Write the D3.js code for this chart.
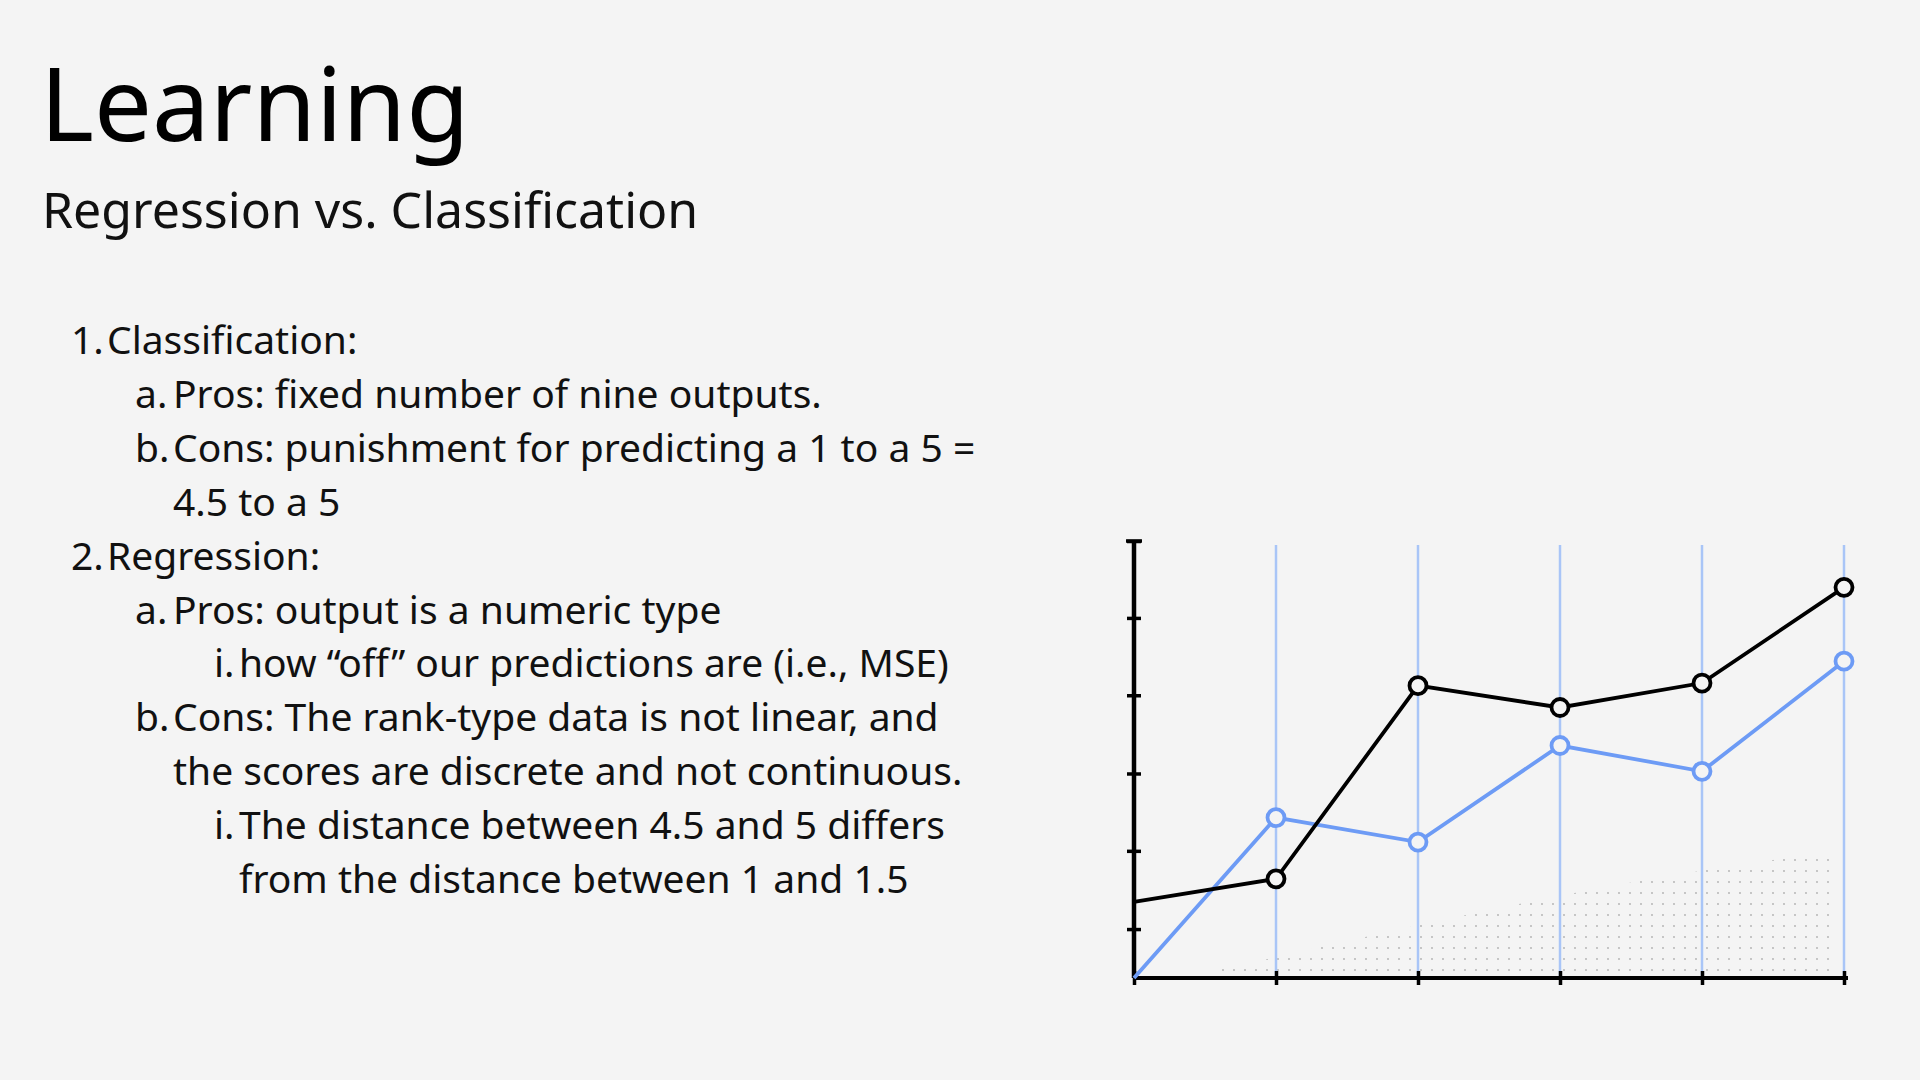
<!DOCTYPE html>
<html><head><meta charset="utf-8">
<script src="https://cdn.jsdelivr.net/npm/d3@7"></script>
<style>
body{margin:0;background:#f4f4f4;}
svg{display:block;font-family:"Noto Sans","Open Sans",sans-serif;}
</style></head><body>
<svg id="c" width="1920" height="1080"></svg>
<script>
const xCats = [0, 1, 2, 3, 4, 5];
const blackVals = [17.4, 22.7, 66.9, 61.9, 67.5, 89.4];
const blueVals = [0, 36.7, 31.1, 53.2, 47.3, 72.5];
const yTicks = [11.2, 29.1, 46.8, 64.7, 82.4, 100];

const lines = [
  {num: '1.', text: 'Classification:', lvl: 0},
  {num: 'a.', text: 'Pros: fixed number of nine outputs.', lvl: 1},
  {num: 'b.', text: 'Cons: punishment for predicting a 1 to a 5 =', lvl: 1},
  {num: '', text: '4.5 to a 5', lvl: 1},
  {num: '2.', text: 'Regression:', lvl: 0},
  {num: 'a.', text: 'Pros: output is a numeric type', lvl: 1},
  {num: 'i.', text: 'how \u201coff\u201d our predictions are (i.e., MSE)', lvl: 2},
  {num: 'b.', text: 'Cons: The rank-type data is not linear, and', lvl: 1},
  {num: '', text: 'the scores are discrete and not continuous.', lvl: 1},
  {num: 'i.', text: 'The distance between 4.5 and 5 differs', lvl: 2},
  {num: '', text: 'from the distance between 1 and 1.5', lvl: 2}
];

const svg = d3.select('#c');
svg.append('text').attr('x', 40).attr('y', 141).attr('font-size', 103).attr('fill', '#000').text('Learning');
svg.append('text').attr('x', 42).attr('y', 228).attr('font-size', 50).attr('fill', '#111').text('Regression vs. Classification');

const numX = [71, 135, 214];
const txtX = [107, 173, 239];
const list = svg.append('g').attr('font-size', 39).attr('fill', '#111');
lines.forEach((d, i) => {
  const y = 354 + i * 53.9;
  if (d.num) list.append('text').attr('x', numX[d.lvl]).attr('y', y).text(d.num);
  list.append('text').attr('x', txtX[d.lvl]).attr('y', y).text(d.text);
});

// chart
const x = d3.scaleLinear().domain([0, 5]).range([1134, 1844]);
const y = d3.scaleLinear().domain([0, 100]).range([978, 541]);

// dotted decoration
const defs = svg.append('defs');
const pat = defs.append('pattern').attr('id', 'dots').attr('patternUnits', 'userSpaceOnUse')
  .attr('width', 11).attr('height', 11);
pat.append('circle').attr('cx', 2).attr('cy', 2).attr('r', 0.9).attr('fill', '#b0b0b0');
svg.append('path').attr('fill', 'url(#dots)')
  .attr('d', 'M1195,975 C1400,930 1600,880 1835,852 L1835,975 Z');

svg.append('g').selectAll('line').data(xCats.slice(1)).join('line')
  .attr('x1', (d) => x(d)).attr('x2', (d) => x(d))
  .attr('y1', 545).attr('y2', 978)
  .attr('stroke', '#a9c5f7').attr('stroke-width', 2.5);

const yAxis = svg.append('g').attr('transform', 'translate(1134,0)')
  .call(d3.axisLeft(y).tickValues(yTicks).tickSize(6).tickFormat(''));
yAxis.selectAll('text').remove();
yAxis.select('.domain').attr('d', 'M0,541V978').attr('stroke-width', 4.5);
yAxis.selectAll('.tick line').attr('x1', -7).attr('x2', 7).attr('stroke-width', 3.5);
svg.append('line').attr('x1', 1126).attr('x2', 1142).attr('y1', 541).attr('y2', 541)
  .attr('stroke', '#000').attr('stroke-width', 3.5);

const xAxis = svg.append('g').attr('transform', 'translate(0,978)')
  .call(d3.axisBottom(x).tickValues(xCats).tickSize(6).tickFormat(''));
xAxis.select('.domain').attr('d', 'M1134,0H1848').attr('stroke-width', 4);
xAxis.selectAll('.tick line').attr('y1', -7).attr('y2', 7).attr('stroke-width', 3.5);

const line = d3.line().x((d, i) => x(i)).y((d) => y(d));
[[blueVals, '#6d9bf5'], [blackVals, '#000']].forEach(([vals, col]) => {
  svg.append('path').datum(vals).attr('d', line).attr('fill', 'none')
    .attr('stroke', col).attr('stroke-width', 3.8);
  svg.append('g').selectAll('circle').data(vals.slice(1)).join('circle')
    .attr('cx', (d, i) => x(i + 1)).attr('cy', (d) => y(d)).attr('r', 8.5)
    .attr('fill', '#f4f4f4').attr('stroke', col).attr('stroke-width', 3.8);
});
</script></body></html>
